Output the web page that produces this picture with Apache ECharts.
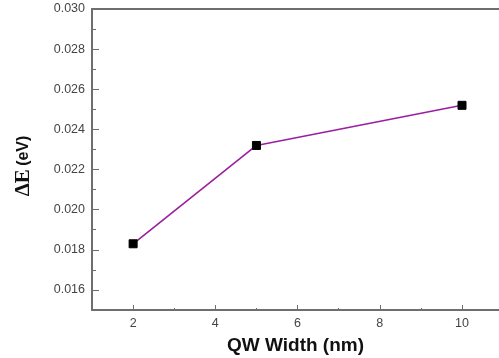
<!DOCTYPE html>
<html>
<head>
<meta charset="utf-8">
<script src="https://cdn.jsdelivr.net/npm/echarts@6/dist/echarts.min.js"></script>
<style>
  html, body { margin: 0; padding: 0; background: #fff; }
  #chart { width: 499px; height: 358px; }
</style>
</head>
<body>
<div id="chart"></div>
<script>
// Quantum-well width vs. energy difference
const qwWidth = [2, 5, 10];
const deltaE = [0.0183, 0.0232, 0.0252];

const xMajorTicks = [2, 4, 6, 8, 10];
const xMinorTicks = [3, 5, 7, 9];
const yMajorTicks = [0.016, 0.018, 0.020, 0.022, 0.024, 0.026, 0.028, 0.030];
const yMinorTicks = [0.017, 0.019, 0.021, 0.023, 0.025, 0.027, 0.029];

const xMin = 1, xMax = 10.9;
const yMin = 0.015, yMax = 0.030;

const axisGrey = '#6e6e6e';
const labelFont = { fontFamily: 'Liberation Sans, Arial, sans-serif', fontSize: 12.5, color: '#444' };

const chart = echarts.init(document.getElementById('chart'), null, { renderer: 'canvas' });

chart.setOption({
  animation: false,
  backgroundColor: '#fff',
  grid: { left: 92, top: 9, right: 0, bottom: 48, outerBoundsMode: 'none', containLabel: false },
  xAxis: [
    {
      type: 'value', min: xMin, max: xMax, position: 'bottom',
      splitLine: { show: false },
      axisLine: { show: true, lineStyle: { color: axisGrey, width: 2 } },
      axisTick: { show: true, inside: true, length: 5, customValues: xMajorTicks, lineStyle: { color: axisGrey, width: 1 } },
      axisLabel: { show: true, margin: 7, customValues: xMajorTicks, ...labelFont },
      name: 'QW Width (nm)', nameLocation: 'middle', nameGap: 26,
      nameTextStyle: { fontFamily: 'Liberation Sans, Arial, sans-serif', fontSize: 19, fontWeight: 'bold', color: '#111' }
    },
    {
      type: 'value', min: xMin, max: xMax, position: 'bottom',
      splitLine: { show: false },
      axisLine: { show: false },
      axisTick: { show: true, inside: true, length: 2, customValues: xMinorTicks, lineStyle: { color: axisGrey, width: 1 } },
      axisLabel: { show: false }
    },
    {
      // top frame line
      type: 'value', min: xMin, max: xMax, position: 'top',
      splitLine: { show: false },
      axisLine: { show: true, lineStyle: { color: axisGrey, width: 2 } },
      axisTick: { show: false },
      axisLabel: { show: false }
    }
  ],
  yAxis: [
    {
      type: 'value', min: yMin, max: yMax, position: 'left',
      splitLine: { show: false },
      axisLine: { show: true, lineStyle: { color: axisGrey, width: 2 } },
      axisTick: { show: true, inside: true, length: 7, customValues: yMajorTicks, lineStyle: { color: axisGrey, width: 1 } },
      axisLabel: { show: true, margin: 7, customValues: yMajorTicks, formatter: v => v.toFixed(3), ...labelFont }
    },
    {
      type: 'value', min: yMin, max: yMax, position: 'left',
      splitLine: { show: false },
      axisLine: { show: false },
      axisTick: { show: true, inside: true, length: 4, customValues: yMinorTicks, lineStyle: { color: axisGrey, width: 1 } },
      axisLabel: { show: false }
    }
  ],
  graphic: [
    {
      // y-axis title
      type: 'text',
      x: 24, y: 166,
      rotation: Math.PI / 2,
      style: {
        text: '{d|ΔE} {u|(eV)}',
        align: 'center',
        verticalAlign: 'middle',
        rich: {
          d: { fontFamily: 'Liberation Serif, Times New Roman, serif', fontSize: 21, fontWeight: 'bold', fill: '#111' },
          u: { fontFamily: 'Liberation Sans, Arial, sans-serif', fontSize: 16, fontWeight: 'bold', fill: '#111' }
        }
      }
    }
  ],
  series: [
    {
      type: 'line',
      xAxisIndex: 0, yAxisIndex: 0,
      data: qwWidth.map((w, i) => [w, deltaE[i]]),
      lineStyle: { color: '#9a1f9e', width: 1.6 },
      symbol: 'rect', symbolSize: 8,
      itemStyle: { color: '#000', borderColor: '#000' },
      clip: false
    }
  ]
});
</script>
</body>
</html>
